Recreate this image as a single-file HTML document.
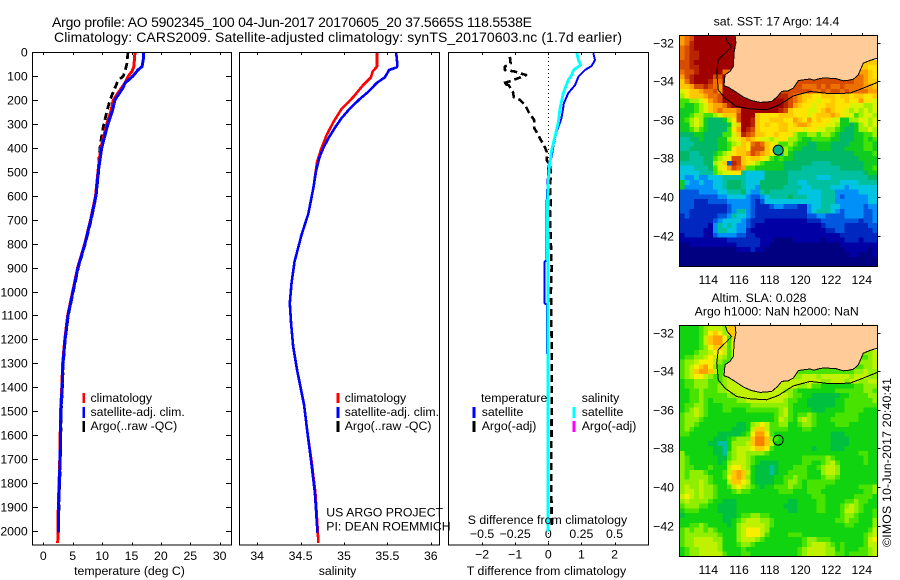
<!DOCTYPE html>
<html lang="en">
<head>
<meta charset="utf-8">
<title>Argo profile 5902345_100</title>
<style>
html,body{margin:0;padding:0;background:#fff;}
svg{display:block;}
text{font-family:"Liberation Sans",sans-serif;font-size:12.3px;fill:#000;}
.ttl{font-size:14px;}
.frame{fill:none;stroke:#000;stroke-width:1;shape-rendering:crispEdges;}
.ln{fill:none;stroke-linejoin:round;stroke-linecap:butt;shape-rendering:crispEdges;}
.lg{stroke-width:2.6;shape-rendering:crispEdges;}
</style>
</head>
<body>
<svg id="chart" xmlns="http://www.w3.org/2000/svg" width="900" height="580" viewBox="0 0 900 580">
  <rect x="0" y="0" width="900" height="580" fill="#fff"/>
  <text class="ttl" x="52" y="27" textLength="480">Argo profile: AO 5902345_100 04-Jun-2017 20170605_20 37.5665S 118.5538E</text>
  <text class="ttl" x="54" y="42" textLength="568">Climatology: CARS2009. Satellite-adjusted climatology: synTS_20170603.nc (1.7d earlier)</text>

  <g id="ticks"></g>

  <!-- temperature panel -->
  <polyline id="t-argo" class="ln" stroke="#000" stroke-width="2.8" stroke-dasharray="7 4"/>
  <polyline id="t-clim" class="ln" stroke="#ff0000" stroke-width="3"/>
  <polyline id="t-sat" class="ln" stroke="#0000ff" stroke-width="3"/>
  <rect class="frame" x="32.5" y="52.5" width="199" height="492.5"/>
  <text x="129.5" y="575" text-anchor="middle">temperature (deg C)</text>
  <line class="lg" x1="83.7" x2="83.7" y1="393" y2="403" stroke="#f00"/>
  <line class="lg" x1="83.7" x2="83.7" y1="407" y2="418" stroke="#00f"/>
  <line class="lg" x1="83.7" x2="83.7" y1="421" y2="432" stroke="#000"/>
  <text x="90.5" y="402">climatology</text>
  <text x="90.5" y="416">satellite-adj. clim.</text>
  <text x="90.5" y="430">Argo(..raw -QC)</text>

  <!-- salinity panel -->
  <polyline id="s-clim" class="ln" stroke="#ff0000" stroke-width="2.6"/>
  <polyline id="s-sat" class="ln" stroke="#0000ff" stroke-width="2.6"/>
  <rect class="frame" x="239.5" y="52.5" width="200" height="492.5"/>
  <text x="337.5" y="575" text-anchor="middle">salinity</text>
  <line class="lg" x1="338" x2="338" y1="393" y2="403" stroke="#f00"/>
  <line class="lg" x1="338" x2="338" y1="407" y2="418" stroke="#00f"/>
  <line class="lg" x1="338" x2="338" y1="421" y2="432" stroke="#000"/>
  <text x="344.7" y="402">climatology</text>
  <text x="344.7" y="416">satellite-adj. clim.</text>
  <text x="344.7" y="430">Argo(..raw -QC)</text>
  <text x="326.3" y="516.7">US ARGO PROJECT</text>
  <text x="326.3" y="530.7">PI: DEAN ROEMMICH</text>

  <!-- difference panel -->
  <line x1="548.5" x2="548.5" y1="53" y2="545" stroke="#000" stroke-width="1" stroke-dasharray="1 3" shape-rendering="crispEdges"/>
  <polyline id="d-argo" class="ln" stroke="#000" stroke-width="2.6" stroke-dasharray="7 4"/>
  <polyline id="d-tsat" class="ln" stroke="#0000ff" stroke-width="2"/>
  <polyline id="d-ssat" class="ln" stroke="#00ffff" stroke-width="2.8"/>
  <rect class="frame" x="448.5" y="52.5" width="200" height="492.5"/>
  <text x="466.7" y="575" textLength="159.5">T difference from climatology</text>
  <text x="467.7" y="524" textLength="159.5">S difference from climatology</text>
  <text x="481" y="402">temperature</text>
  <text x="581.7" y="402">salinity</text>
  <line class="lg" x1="474" x2="474" y1="407" y2="418" stroke="#00f"/>
  <line class="lg" x1="474" x2="474" y1="421" y2="432" stroke="#000"/>
  <line class="lg" x1="574" x2="574" y1="407" y2="418" stroke="#0ff"/>
  <line class="lg" x1="574" x2="574" y1="421" y2="432" stroke="#f0f"/>
  <text x="481.7" y="416">satellite</text>
  <text x="481.7" y="430">Argo(-adj)</text>
  <text x="581.7" y="416">satellite</text>
  <text x="581.7" y="430">Argo(-adj)</text>

  <!-- maps -->
  <text x="776.5" y="25.5" text-anchor="middle">sat. SST: 17 Argo: 14.4</text>
  <g id="sst-cells" shape-rendering="crispEdges"></g>
  <polygon id="sst-land" fill="#ffcc99"/>
  <polyline id="sst-coast" class="ln" stroke="#000" stroke-width="1"/>
  <polyline id="sst-iso" class="ln" stroke="#000" stroke-width="1"/>
  <circle id="sst-float" r="5" fill="#00b080" stroke="#000" stroke-width="1"/>
  <rect class="frame" x="679.5" y="35.5" width="198" height="231"/>

  <text x="759" y="302" text-anchor="middle">Altim. SLA: 0.028</text>
  <text x="776.7" y="315.7" text-anchor="middle">Argo h1000: NaN h2000: NaN</text>
  <g id="sla-cells" shape-rendering="crispEdges"></g>
  <polygon id="sla-land" fill="#ffcc99"/>
  <polyline id="sla-coast" class="ln" stroke="#000" stroke-width="1"/>
  <polyline id="sla-iso" class="ln" stroke="#000" stroke-width="1"/>
  <circle id="sla-float" r="5" fill="none" stroke="#000" stroke-width="1"/>
  <rect class="frame" x="679.5" y="325.5" width="198" height="231"/>
  <text x="891" y="547" transform="rotate(-90 891 547)" textLength="169">©IMOS 10-Jun-2017 20:40:41</text>
</svg>

<script>
// ---- axis tick values ----
const depthTicks = [0,100,200,300,400,500,600,700,800,900,1000,1100,1200,1300,1400,1500,1600,1700,1800,1900,2000];
const tempTicks = [0,5,10,15,20,25,30];
const salTicks = [34,34.5,35,35.5,36];
const tDiffTicks = [-2,-1,0,1,2];
const sDiffTicks = [-0.5,-0.25,0,0.25,0.5];
const lonTicks = [114,116,118,120,122,124];
const latTicks = [-32,-34,-36,-38,-40,-42];

// ---- temperature profiles ----
const climDepth = [0,60,80,100,130,150,200,250,300,400,450,500,600,700,800,900,1000,1100,1200,1300,1400,1500,1700,1900,2000,2050];
const tempClim = [15.6,15.4,15.1,14.45,13.9,13.3,11.9,11.46,10.8,9.8,9.5,9.3,8.9,8.05,7.05,5.85,5.0,4.15,3.65,3.3,3.15,2.95,2.8,2.55,2.5,2.45];
const satDepth = [0,30,60,75,100,130,150,200,250,300,400,500,600,700,800,900,1000,1100,1200,1300,1400,1500,1700,1900,2007];
const tempSat = [17.0,17.0,16.8,16.1,15.25,13.9,13.55,12.2,11.7,11.0,9.93,9.35,8.96,8.1,7.1,5.9,5.05,4.2,3.7,3.35,3.2,3.0,2.85,2.6,2.55];
const argoDepth = [0,50,80,100,120,150,200,250,300,350,400,450,500,600,700,800,900,1000,1100,1200,1300,1400,1500,1700,1900,2000];
const tempArgo = [14.4,14.2,13.9,13.6,12.7,12.2,11.35,10.8,10.3,9.93,9.64,9.45,9.4,9.0,8.15,7.15,5.95,5.1,4.25,3.75,3.4,3.25,3.05,2.9,2.65,2.6];

// ---- salinity profiles ----
const salClimDepth = [0,61,82,106,138,187,239,291,347,402,458,562,674,764,876,966,1049,1133,1231,1328,1474,1591,1704,1841,1982,2050];
const salClim = [35.38,35.38,35.33,35.31,35.22,35.11,34.97,34.88,34.8,34.74,34.69,34.65,34.59,34.51,34.43,34.395,34.376,34.39,34.415,34.46,34.54,34.58,34.625,34.67,34.695,34.705];
const salSatDepth = [0,54,64,75,106,128,166,197,235,277,314,360,402,437,493,562,618,674,764,876,966,1049,1133,1231,1328,1474,1591,1704,1841,1982,2007];
const salSat = [35.6,35.615,35.61,35.52,35.47,35.38,35.28,35.18,35.07,34.97,34.9,34.82,34.76,34.72,34.68,34.65,34.62,34.59,34.51,34.43,34.395,34.376,34.39,34.415,34.46,34.54,34.58,34.62,34.665,34.69,34.695];

// ---- difference profiles ----
const diffArgoDepth = [20,47,61,75,82,89,96,107,124,131,138,166,189,200,221,249,284,319,347,367,388,416,451,472,506,562,631,688,800,900,1000,1200,1500,1750,1985];
const diffArgoT = [-1.16,-1.14,-1.31,-1.31,-1.0,-0.86,-0.67,-0.86,-1.2,-1.38,-1.2,-1.07,-1.04,-0.86,-0.7,-0.6,-0.43,-0.42,-0.3,-0.23,-0.13,-0.05,-0.05,0.05,0.08,0.05,0.08,0.05,0.08,0.1,0.08,0.1,0.1,0.09,0.1];
const diffTSatDepth = [5,33,58,75,103,138,172,214,277,333,381,437,479,631,870,875,1050,1055,1300,2000];
const diffTSat = [1.36,1.41,1.31,1.11,0.91,0.81,0.6,0.47,0.4,0.25,0.17,0.1,0,-0.05,-0.05,-0.11,-0.11,-0.04,-0.03,-0.01];
const diffSSatDepth = [0,33,54,75,96,117,172,235,291,354,409,479,535,646,1000,1500,2003];
const diffSSat = [0.214,0.227,0.245,0.19,0.177,0.15,0.113,0.088,0.076,0.05,0.026,0.008,0,-0.007,-0.004,-0.003,-0.002];

// ---- map geometry in geographic coordinates ----
const coastLon = [115.74,115.80,115.69,115.63,115.41,115.09,115.02,115.30,115.74,116.28,116.80,117.37,118.13,118.50,118.78,119.20,119.54,119.86,120.20,120.63,120.90,121.30,121.71,122.30,122.80,123.02,123.45,123.77,124.10,124.53,125.0];
const coastLat = [-31.60,-32.02,-32.47,-33.24,-33.50,-33.67,-34.24,-34.31,-34.53,-34.82,-35.00,-35.10,-35.05,-34.80,-34.53,-34.50,-34.36,-33.97,-33.93,-33.89,-33.95,-33.85,-33.84,-33.87,-33.98,-33.97,-33.90,-33.67,-33.07,-32.93,-32.81];
const isoLon = [115.09,115.24,115.52,115.20,114.65,114.55,114.65,115.09,115.85,116.72,117.80,118.56,119.54,120.63,121.93,123.23,124.10,125.0];
const isoLat = [-31.62,-31.95,-32.21,-32.47,-32.89,-33.58,-34.45,-34.88,-35.31,-35.43,-35.48,-35.26,-34.76,-34.53,-34.65,-34.62,-34.36,-34.07];
const floatLon = [118.5538];
const floatLat = [-37.5665];

// ---- colour scales for the heatmaps (level code -> colour) ----
const levelCodes = "0123456789abcdefghi";
const sstColors = ["#000080","#0000a4","#0028c0","#0058e0","#0090f8","#00c4e0","#00c0a0","#00b868","#10cc20","#40e400","#a0f000","#d8f400","#ffe400","#ffc800","#ffa000","#ec7000","#d84c00","#b82400","#a00000"];
const slaColors = ["#000080","#0000a4","#0028c0","#0058e0","#0090f8","#00c4e0","#00c0a0","#00c040","#10d410","#48e400","#90ee00","#c0f200","#f8ee00","#ffc800","#ffa000","#f88000","#d84c00","#b82400","#a00000"];

// ---- SST levels: one string per latitude row; "|" marks the land gap ----
const sstRows = [
"efgiiiiiiiii","efhiiiiiiiii","fghiiiiiiiii","fghhiiiiiiii","fghhiiiiiiii",
"gghiiiiiiiii|dd","gghhiiiiiiii|dcc","fgghiiiiiffg|edc","eghiiiiggii|fedc","dfhiiihffii|gffedd",
"ddegghgfei|gfffgfgffgffffeed","bcddeffgeii|ggggffgfggfgffffee","acdddeffgiii|hgfeddccdddcddcddccd","99aabcefgiiiii|iihgfedccbccdccdcceccb",
"9889abdeef hiiiiiiiii iihgedccbc cddcccbbba ab",
"8889abdefe eefiiiiiii ihgdcccbbc dedccbabab ab",
"889aa99abd ddgiiidccc cdddcccbcd ddedcbb9ab ba",
"89aba87778 acgiihdccd ddccedcecd ccbb88aabb ab",
"88aba87777 8bdiihdcdc cddcdeedcc cbba8878ab ab",
"889a987777 9ceihgdccc cddcccbccb baa98778aa ba",
"7778877779 9bdhgfddcc dccca99aa9 aa98777889 9a",
"6677877788 abcdedcbba bccaa98899 9988777889 89",
"6667777788 9abdcfgfdc b99a988778 8877778889 98",
"6677777788 9cddcgggdc a9a9887778 8877788889 98",
"776677789a bcddegfedc a6a8777777 7777777888 89",
"7766677 9ab cggdcddcb9 8988777777 7777777788 88",
"6666677abd 3hgdcba988 8877777766 6677777778 88",
"55566679bc egfe998888 8877776666 6666777778 89",
"5555666 9ab bcc6555577 7776666666 6666666667 88",
"5445445556 6666555577 7776666665 5566666666 77",
"8544544556 7776555777 7776655666 6666555566 66",
"8444444556 7776554777 7766665566 6655545555 55",
"3333444455 6667544676 6666655555 6664444455 55",
"3333333344 5555433456 6667666555 6664344444 55",
"3332223333 4444432355 5555555555 6664444444 55",
"3332222222 3444432223 4433322455 6655444443 44",
"3322222222 3466432222 2222222456 6654344443 34",
"2322222233 4655432222 2222222334 4333344443 34",
"2222222345 5554322211 1111111222 3333333323 34",
"2222221465 6544321111 1111111111 2333322222 33",
"2222211466 5544211111 1111111111 1223322222 23",
"1222211344 4433221111 1111111111 1111222222 22",
"1111111111 2222222111 0000111111 0111122212 22",
"0011111111 1122222110 0000000000 0000111111 11",
"0000000000 0011121100 0000000000 0000011111 01",
"0000000000 0000000000 0000000000 0000001100 01",
"0000000000 0000000000 0000000000 0000000000 00",
"0000000000 0000000000 0000000000 0000000000 00"
];

// ---- SLA levels ----
const slaRows = [
"88889abbbadd","88889acdcadd","88889bdeec9d","88889bdeec9c","88889acddb9c",
"8889aabccb9b|ab","899aabcbba9b|9ab","9aabcccba99b|aab","9abcdeca99b|9aab","9abdeedb99a|9aabaa",
"9abccba99ab|abbbabbbbbbabbbaa","899aaa999ab|bbbbbbaabbbabbaabb","899aaa99aabb|bbbaab99888888899aaa","8899a999aabbbb|bbaa988888888999999aa9",
"8899a99999 aabbbbbbbb bbba998877 7777889999 aa",
"8899a98999 99aabbbbbb bba9988777 7778899999 9a",
"899aa98889 99999aaaaa aaa9888777 7778899999 99",
"89aba98889 9888999999 9ab9888877 7888899998 88",
"9aaba98888 8888888888 9ab9899a98 8889999988 88",
"9aaa988888 8888888888 9ba98aba98 8899999988 88",
"9aa9888888 88778abcb9 9aa889aa98 8889998888 88",
"9a98888888 87778bddb9 9998889988 8888888888 88",
"9988888877 7778 9ceec9 8888888888 8877788888 88",
"8888888777 89aaadffda 9888888888 8877778888 88",
"8888887766 8aaabdffdb 8888888888 8877778888 88",
"8888888776 8abbbcddc9 8888888878 8877788888 88",
"a888888776 9abbaaaa98 8888888888 8888888899 88",
"a988888877 9abba98888 8888889999 9a98888889 88",
"a988888878 abbba98777 7888889988 9ab9888889 88",
"a998889888 bccba87776 7888999889 abba888888 88",
"a9aaa98889 bdedb87776 7889999888 abba888888 88",
"a9aaaa9889 cdeda87777 8899a99888 9aa9888888 88",
"aaaaba9888 bddcb87777 889aa98999 9998888888 88",
"abaabaa988 9bcba98788 999a998999 9888888899 9a",
"abbabaa988 89a9988888 8999888999 8888888889 9a",
"bcbabaa988 8888888888 8888888899 9888888999 98",
"abaaaa9887 7788888888 8887788889 9888899a99 88",
"9aaa998877 7788888888 8877788889 98889aba98 88",
"8999888877 7788888888 8887788889 98889bba98 89",
"7888888887 77899aa998 8888888888 88889aa988 89",
"8888888887 789abbbaa9 8888888888 88899a9988 8a",
"8899a98888 78abbbbba9 8888888888 8888899888 8a",
"9a9aa9a988 88abcccba8 8888888888 8888888888 9b",
"9aaaaaaa98 88abcccb98 8889998888 8888888889 ab",
"9aabbbbaa8 88abbba988 8888889aa9 9988888889 bc",
"9aabbbbba8 889aa98888 8888889abb ba98988889 bb",
"89aabbbba8 8889888888 888889abbb baa8988899 ab",
"89aabbbbb9 8889988888 888889abbb baa9989999 ab"
];

// ---- axis functions ----
function yDepth(d){ return 52 + d * 0.2395; }
function xTemp(t){ return 43.3 + t * 5.88; }
function xSal(s){ return 344 + (s - 35) * 86.8; }
function xTDiff(v){ return 548.3 + v * 33.1; }
function xSDiff(v){ return 548.3 + v * 132.4; }
function xLon(lon){ return 708.3 + (lon - 114) * 15.35; }
function yLat(lat, top){ return top + 7.5 + (-32 - lat) * 19.33; }

const SVGNS = "http://www.w3.org/2000/svg";
const ticksG = document.getElementById("ticks");
function mk(tag, parent, attrs){
  const e = document.createElementNS(SVGNS, tag);
  for (const k in attrs) e.setAttribute(k, attrs[k]);
  parent.appendChild(e);
  return e;
}
function tickLine(x1, y1, x2, y2){
  return mk("line", ticksG, {x1:x1, y1:y1, x2:x2, y2:y2, stroke:"#000", "stroke-width":1, "shape-rendering":"crispEdges"});
}
function label(v){ return String(v).replace("-", "\u2212"); }
function setPoints(id, xs, ys, fx){
  const pts = [];
  for (let i = 0; i < xs.length; i++) pts.push(fx(xs[i]).toFixed(1) + "," + yDepth(ys[i]).toFixed(1));
  document.getElementById(id).setAttribute("points", pts.join(" "));
}

// series
setPoints("t-clim", tempClim, climDepth, xTemp);
setPoints("t-sat", tempSat, satDepth, xTemp);
setPoints("t-argo", tempArgo, argoDepth, xTemp);
setPoints("s-clim", salClim, salClimDepth, xSal);
setPoints("s-sat", salSat, salSatDepth, xSal);
setPoints("d-argo", diffArgoT, diffArgoDepth, xTDiff);
setPoints("d-tsat", diffTSat, diffTSatDepth, xTDiff);
setPoints("d-ssat", diffSSat, diffSSatDepth, xSDiff);

// depth ticks and labels
depthTicks.forEach(function(d){
  const y = Math.round(yDepth(d)) + 0.5;
  const a = tickLine(32.5, y, 38, y);
  
  
  const b = tickLine(226, y, 231.5, y);
  
  
  const t = mk("text", ticksG, {x:27.7, y:y + 4, "text-anchor":"end"});
  t.textContent = d;
  
  
});

// temperature axis
tempTicks.forEach(function(v){
  const x = Math.round(xTemp(v)) + 0.5;
  const a = tickLine(x, 52.5, x, 55);
  
  
  const b = tickLine(x, 542.5, x, 545);
  
  
  const t = mk("text", ticksG, {x:xTemp(v), y:560, "text-anchor":"middle"});
  t.textContent = label(v);
  
  
});

// salinity axis
salTicks.forEach(function(v){
  const x = Math.round(xSal(v)) + 0.5;
  const a = tickLine(x, 52.5, x, 55);
  
  
  const b = tickLine(x, 542.5, x, 545);
  
  
  const t = mk("text", ticksG, {x:xSal(v), y:560, "text-anchor":"middle"});
  t.textContent = label(v);
  
  
});

// T difference axis
tDiffTicks.forEach(function(v){
  const x = Math.round(xTDiff(v)) + 0.5;
  const a = tickLine(x, 52.5, x, 55);
  
  
  const b = tickLine(x, 542.5, x, 545);
  
  
  const t = mk("text", ticksG, {x:xTDiff(v), y:558.5, "text-anchor":"middle"});
  t.textContent = label(v);
  
  
});

// S difference labels
sDiffTicks.forEach(function(v){
  const t = mk("text", ticksG, {x:xSDiff(v), y:538, "text-anchor":"middle"});
  t.textContent = label(v);
  
  
});

// map axes
[35, 325].forEach(function(top){
  const bottomLabel = top + 249;
  lonTicks.forEach(function(v){
    const x = Math.round(xLon(v)) + 0.5;
    const a = tickLine(x, top - 2, x, top + 0.5);
    
    
    const t = mk("text", ticksG, {x:xLon(v), y:bottomLabel, "text-anchor":"middle"});
    t.textContent = v;
    
    
  });
  latTicks.forEach(function(v){
    const y = Math.round(yLat(v, top)) + 0.5;
    const a = tickLine(877.5, y, 880.5, y);
    
    
    const t = mk("text", ticksG, {x:674, y:y + 4, "text-anchor":"end"});
    t.textContent = label(v);
    
    
  });
});

// heatmaps: the land gap is filled from its neighbours, then covered by the land polygon
const COLS = 42, CW = 4.7, CH = 4.8;
function parseRow(r){
  const parts = r.replace(/ /g, "").split("|");
  const cells = [];
  for (let i = 0; i < parts[0].length; i++) cells.push([i, parts[0][i]]);
  if (parts[1]) {
    const start = COLS - parts[1].length;
    const mid = Math.round((parts[0].length + start) / 2);
    for (let i = parts[0].length; i < start; i++) cells.push([i, i < mid ? parts[0][parts[0].length - 1] : parts[1][0]]);
    for (let i = 0; i < parts[1].length; i++) cells.push([start + i, parts[1][i]]);
  }
  return cells;
}

sstRows.forEach(function(row, r){
  parseRow(row).forEach(function(c){
    const rect = mk("rect", document.getElementById("sst-cells"), {x:(680 + c[0] * CW).toFixed(1), y:(36 + r * CH).toFixed(1), width:CW + 0.3, height:CH + 0.3, fill:sstColors[levelCodes.indexOf(c[1])]});
    
    
  });
});
slaRows.forEach(function(row, r){
  parseRow(row).forEach(function(c){
    const rect = mk("rect", document.getElementById("sla-cells"), {x:(680 + c[0] * CW).toFixed(1), y:(326 + r * CH).toFixed(1), width:CW + 0.3, height:CH + 0.3, fill:slaColors[levelCodes.indexOf(c[1])]});
    
    
  });
});

// land, coast, isobath, float
function geoPts(lons, lats, top){
  const pts = [];
  for (let i = 0; i < lons.length; i++) pts.push(xLon(lons[i]).toFixed(1) + "," + yLat(lats[i], top).toFixed(1));
  return pts;
}
[["sst", 35], ["sla", 325]].forEach(function(m){
  const top = m[1];
  const cp = geoPts(coastLon, coastLat, top);
  document.getElementById(m[0] + "-coast").setAttribute("points", cp.join(" "));
  document.getElementById(m[0] + "-land").setAttribute("points", cp.concat(geoPts([125], [-31.6], top)).join(" "));
  document.getElementById(m[0] + "-iso").setAttribute("points", geoPts(isoLon, isoLat, top).join(" "));
  const f = document.getElementById(m[0] + "-float");
  f.setAttribute("cx", xLon(floatLon[0]));
  f.setAttribute("cy", yLat(floatLat[0], top));
});
</script>
</body>
</html>
